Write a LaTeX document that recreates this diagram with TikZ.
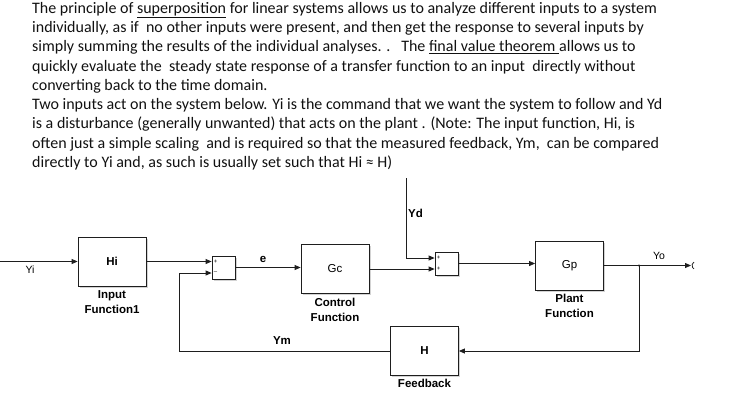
\documentclass[tikz,border=0pt]{standalone}
\usepackage{fontspec}
\setmainfont{Carlito}
\setsansfont{Liberation Sans}
\usepackage{xcolor}
\usetikzlibrary{arrows.meta,positioning,calc,shadows}
\definecolor{sline}{HTML}{1E1E1E}
\definecolor{stext}{HTML}{111111}

\begin{document}
\begin{tikzpicture}[x=1pt,y=-1pt,
    block/.style={draw=sline,line width=0.8pt,fill=white,inner sep=0pt,
      minimum width=68pt,minimum height=49pt,font=\sffamily\fontsize{11.5}{12}\selectfont,
      drop shadow={shadow xshift=1.6pt,shadow yshift=-1.6pt,opacity=0.35}},
    sumbox/.style={block,minimum width=23pt,minimum height=23pt},
    sig/.style={sline,line width=0.8pt,-{Triangle[length=6pt,width=5pt]}},
    wire/.style={sline,line width=0.8pt},
    lab/.style={font=\sffamily\bfseries\fontsize{11.5}{15}\selectfont,align=center,inner sep=0pt},
    sign/.style={font=\sffamily\fontsize{6}{6}\selectfont,inner sep=0pt}]
  \useasboundingbox (0,0) rectangle (732,400);
  % text above the diagram
  \node[anchor=north west,align=left,inner sep=0pt,text=stext,
    font=\fontsize{16}{19.25}\selectfont] (intro) at (32,2) {%
    The principle of \underline{superposition} for linear systems allows us to analyze different inputs to a system\\
    individually, as if\ \ no other inputs were present, and then get the response to several inputs by\\
    simply summing the results of the individual analyses. .\ \ \ The \underline{final value theorem\ }allows us to\\
    quickly evaluate the\ \ steady state response of a transfer function to an input\ \ directly without\\
    converting back to the time domain.\\
    Two inputs act on the system below. Yi is the command that we want the system to follow and Yd\\
    is a disturbance (generally unwanted) that acts on the plant . (Note: The input function, Hi, is\\
    often just a simple scaling\ \ and is required so that the measured feedback, Ym,\ \ can be compared\\
    directly to Yi and, as such is usually set such that Hi ≈ H)};
  % blocks
  \node[block,font=\sffamily\bfseries\fontsize{11.5}{12}\selectfont] (hi) at (112,261.5) {Hi};
  \node[block] (gc) at (335,269) {Gc};
  \node[block] (gp) at (569.5,265.5) {Gp};
  \node[block,font=\sffamily\bfseries\fontsize{11.5}{12}\selectfont] (fb) at (424.5,351) {H};
  \node[sumbox] (s1) at (223.5,267.5) {};
  \node[sumbox] (s2) at (446.5,263.5) {};
  \node[sign] at ($(s1.west)+(4,-5.5)$) {+};
  \node[sign] at ($(s1.west)+(4,5.5)$) {--};
  \node[sign] at ($(s2.west)+(4,-5.5)$) {+};
  \node[sign] at ($(s2.west)+(4,5.5)$) {+};
  % block labels
  \node[lab,below=4pt of hi] (hilab) {Input\\Function1};
  \node[lab,below=4pt of gc] (gclab) {Control\\Function};
  \node[lab,below=4pt of gp] (gplab) {Plant\\Function};
  \node[lab,below=3pt of fb] (fblab) {Feedback};
  % signals
  \coordinate (yiin) at (0,261.5);
  \coordinate (ydin) at (406,178);
  \coordinate (ymc) at (179,273);
  \coordinate (br) at (639,265.5);
  \coordinate (yout) at (691,265.5);
  \draw[sig] (yiin) -- (hi);
  \draw[sig] (hi.east) -- (hi.east -| s1.west);
  \draw[sig] (s1.east) -- (s1.east -| gc.west);
  \draw[sig] (gc.east) -- (gc.east |- 269,269) -- ($(s2.west)+(0,5.5)$);
  \draw[sig] (ydin) |- ($(s2.west)+(0,-5.5)$);
  \draw[sig] (s2.east) -- (s2.east -| gp.west);
  \draw[sig] (gp.east) -- (yout);
  \draw[wire] (694,262) arc[start angle=120,end angle=240,radius=4pt];
  \fill[sline] (br) circle (1.2pt);
  \draw[sig] (br) |- (fb.east);
  \draw[sig] (fb.west) -| (ymc) -- (ymc -| s1.west);
  % signal names
  \node[font=\sffamily\fontsize{10.5}{12}\selectfont] (yilab) at (30,270) {Yi};
  \node[lab] (elab) at (263,259) {e};
  \node[lab] (ymlab) at (282,341) {Ym};
  \node[lab,anchor=west] (ydlab) at (408,213) {Yd};
  \node[font=\sffamily\fontsize{10.5}{12}\selectfont] (yolab) at (659,256) {Yo};
\end{tikzpicture}
\end{document}
